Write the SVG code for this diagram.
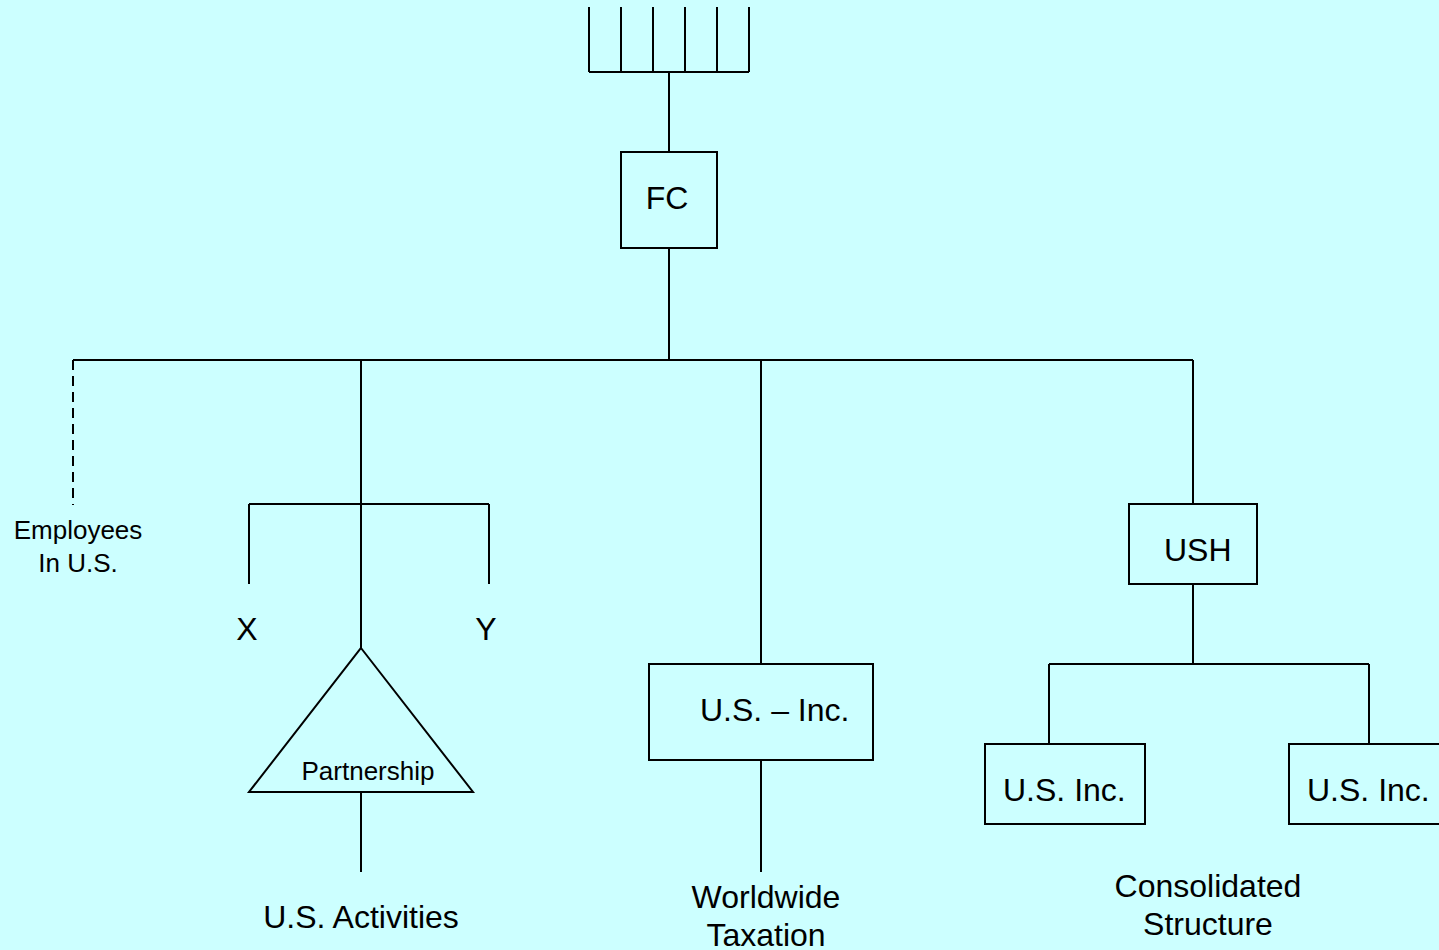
<svg xmlns="http://www.w3.org/2000/svg" width="1439" height="950" viewBox="0 0 1439 950">
<style>
.ln{stroke:#000;stroke-width:2;fill:none}
.bx{stroke:#000;stroke-width:2;fill:#CCFFFF}
.t{font-family:"Liberation Sans",Arial,sans-serif;fill:#000;font-size:32px}
.s{font-family:"Liberation Sans",Arial,sans-serif;fill:#000;font-size:26px}
</style>
<rect width="1439" height="950" fill="#CCFFFF"/>
<g id="connectors">
<path class="ln" d="M589,7V72M621,7V72M653,7V72M685,7V72M717,7V72M749,7V72M589,72H749"/>
<path class="ln" d="M669,72V152M669,248V360M73,360H1193"/>
<path class="ln" d="M73,360V505" stroke-dasharray="10,6"/>
<path class="ln" d="M361,360V648M249,504H489M249,504V584M489,504V584M361,792V872"/>
<path class="ln" d="M761,360V664M761,760V872"/>
<path class="ln" d="M1193,360V504M1193,584V664M1049,664H1369M1049,664V744M1369,664V744"/>
</g>
<g id="fc"><rect class="bx" x="621" y="152" width="96" height="96"/><text class="t" x="667" y="209" text-anchor="middle">FC</text></g>
<g id="employees"><text class="s" x="78" y="539" text-anchor="middle">Employees</text><text class="s" x="78" y="572" text-anchor="middle">In U.S.</text></g>
<g id="x"><text class="t" x="247" y="640" text-anchor="middle">X</text></g>
<g id="y"><text class="t" x="486" y="640" text-anchor="middle">Y</text></g>
<g id="partnership"><polygon class="bx" points="361,648 473,792 249,792"/><text class="s" x="368" y="780" text-anchor="middle">Partnership</text></g>
<g id="us-activities"><text class="t" x="361" y="928" text-anchor="middle">U.S. Activities</text></g>
<g id="us-inc-main"><rect class="bx" x="649" y="664" width="224" height="96"/><text class="t" x="700" y="721">U.S. – Inc.</text></g>
<g id="worldwide"><text class="t" x="766" y="908" text-anchor="middle">Worldwide</text><text class="t" x="766" y="946" text-anchor="middle">Taxation</text></g>
<g id="ush"><rect class="bx" x="1129" y="504" width="128" height="80"/><text class="t" x="1164" y="561">USH</text></g>
<g id="us-inc-left"><rect class="bx" x="985" y="744" width="160" height="80"/><text class="t" x="1003" y="801">U.S. Inc.</text></g>
<g id="us-inc-right"><rect class="bx" x="1289" y="744" width="160" height="80"/><text class="t" x="1307" y="801">U.S. Inc.</text></g>
<g id="consolidated"><text class="t" x="1208" y="897" text-anchor="middle">Consolidated</text><text class="t" x="1208" y="935" text-anchor="middle">Structure</text></g>
</svg>
